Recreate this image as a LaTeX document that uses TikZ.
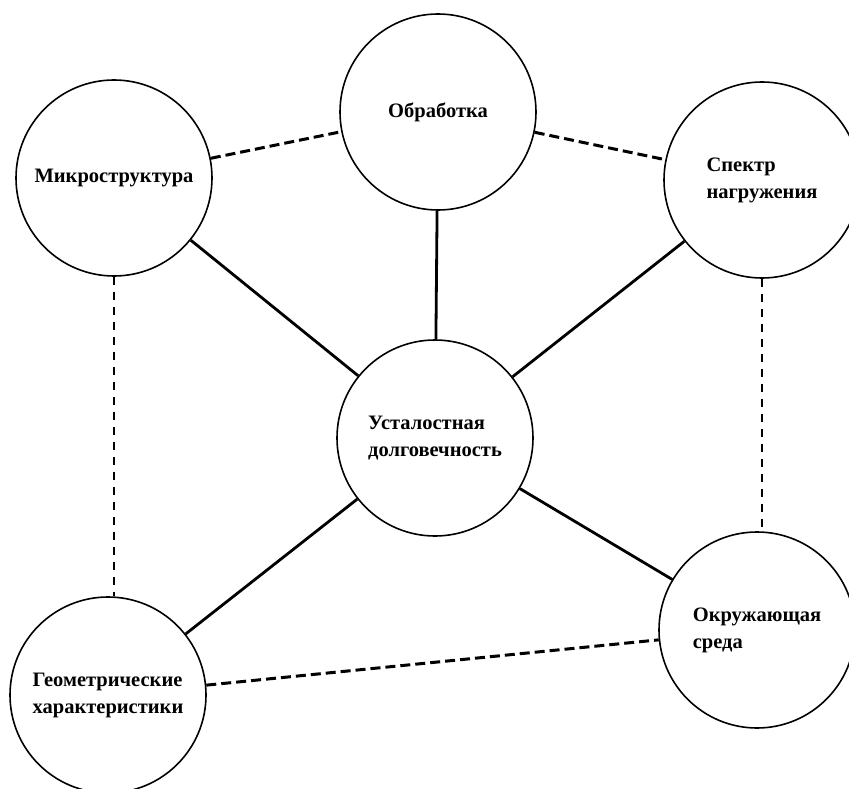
\documentclass[tikz,border=0pt]{standalone}
\usepackage{fontspec}
\setmainfont{Liberation Serif}
\begin{document}
\begin{tikzpicture}[x=1pt,y=-1pt,
  factor/.style={draw,circle,line width=1.6pt,minimum size=196pt,inner sep=0pt,
    align=left,font=\bfseries\fontsize{20.5}{27}\selectfont},
  link/.style={line width=2.8pt},
  weaklink/.style={line width=3pt,dash pattern=on 10pt off 5pt},
  vlink/.style={line width=2pt,dash pattern=on 8pt off 7pt}]
\useasboundingbox (0,0) rectangle (849,789);
% factors
\node[factor] (obr)     at (438,112) {Обработка};
\node[factor] (micro)   at (114,178) {Микроструктура};
\node[factor] (spectr)  at (762,180) {Спектр\\нагружения};
\node[factor] (fatigue) at (435,438) {Усталостная\\долговечность};
\node[factor] (env)     at (757,630) {Окружающая\\среда};
\node[factor] (geom)    at (108,695) {Геометрические\\характеристики};
% strong links
\draw[link] (fatigue) -- (obr);
\draw[link] (fatigue) -- (micro);
\draw[link] (fatigue) -- (spectr);
\draw[link] (fatigue) -- (env);
\draw[link] (fatigue) -- (geom);
% weak links
\draw[weaklink] (micro) -- (obr);
\draw[weaklink] (obr) -- (spectr);
\draw[weaklink] (geom) -- (env);
\draw[vlink] (micro.south) -- (micro.south |- geom.north);
\draw[vlink] (spectr.south) -- (spectr.south |- env.north);
\end{tikzpicture}
\end{document}
